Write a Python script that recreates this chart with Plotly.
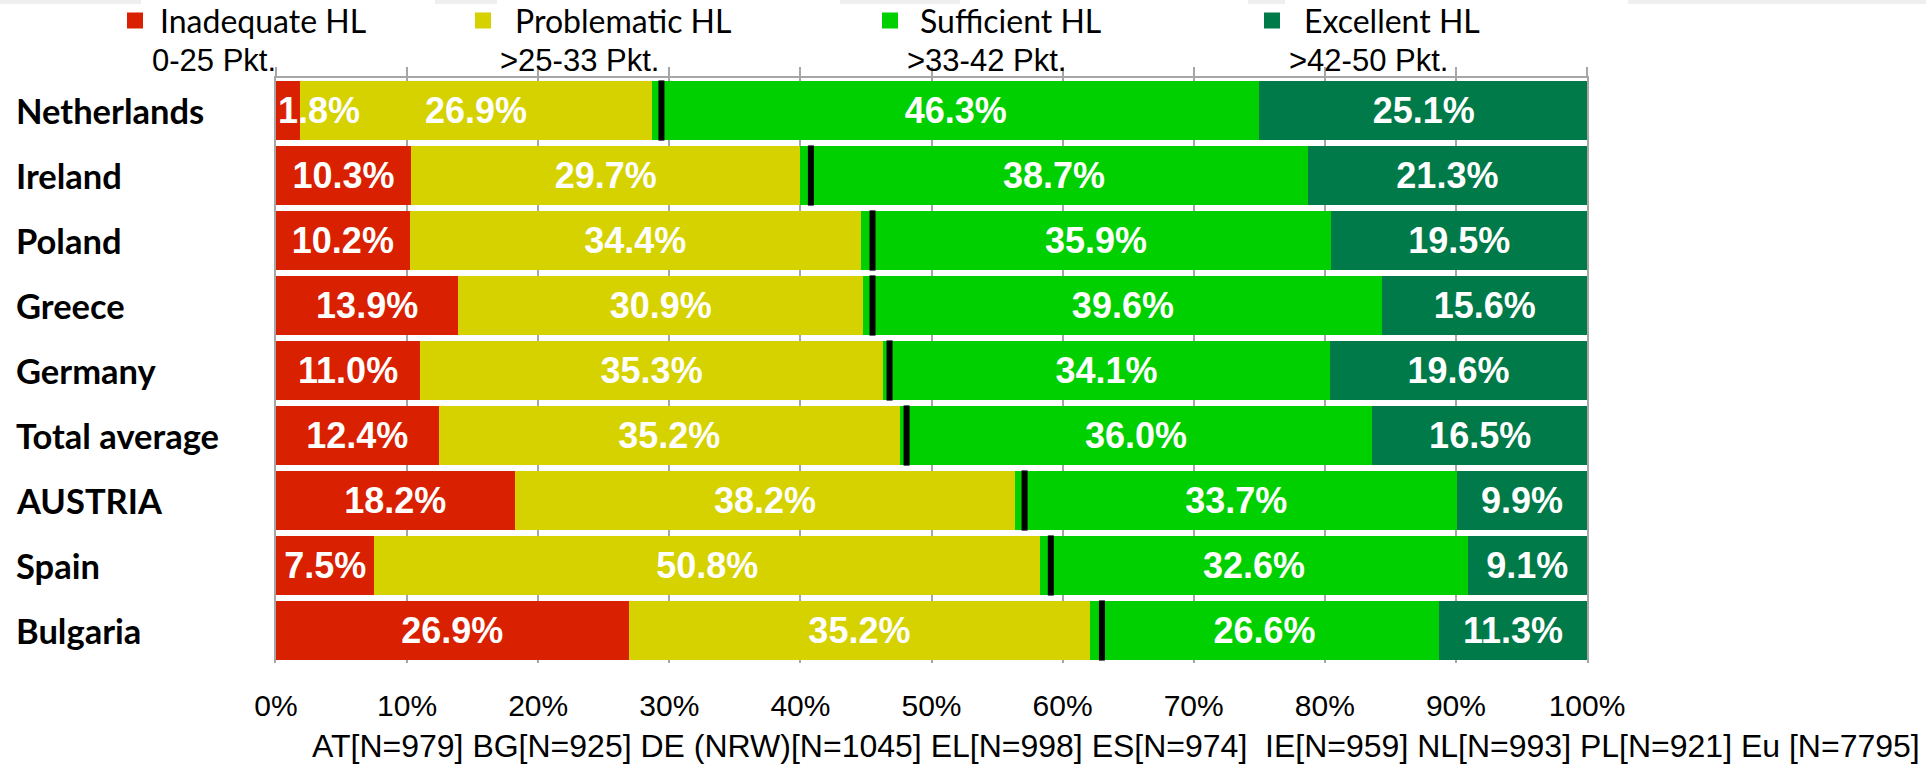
import plotly.graph_objects as go

# ---------------- data ----------------
countries = ["Netherlands", "Ireland", "Poland", "Greece", "Germany",
             "Total average", "AUSTRIA", "Spain", "Bulgaria"]
inadequate = [1.8, 10.3, 10.2, 13.9, 11.0, 12.4, 18.2, 7.5, 26.9]
problematic = [26.9, 29.7, 34.4, 30.9, 35.3, 35.2, 38.2, 50.8, 35.2]
sufficient = [46.3, 38.7, 35.9, 39.6, 34.1, 36.0, 33.7, 32.6, 26.6]
excellent = [25.1, 21.3, 19.5, 15.6, 19.6, 16.5, 9.9, 9.1, 11.3]
# black marker (limited HL boundary) positions, in %
limited_marker = [29.4, 40.8, 45.5, 45.5, 46.8, 48.1, 57.1, 59.1, 63.0]

series_names = ["Inadequate HL", "Problematic HL", "Sufficient HL", "Excellent HL"]
series_ranges = ["0-25 Pkt.", ">25-33 Pkt.", ">33-42 Pkt.", ">42-50 Pkt."]
series_colors = ["#D92000", "#D5D200", "#00D000", "#007A48"]
tick_values = [0, 10, 20, 30, 40, 50, 60, 70, 80, 90, 100]
sample_note = ("AT[N=979] BG[N=925] DE (NRW)[N=1045] EL[N=998] ES[N=974]  "
               "IE[N=959] NL[N=993] PL[N=921] Eu [N=7795]")

# ---------------- layout geometry (screen pixels) ----------------
SW, SH = 1926, 767
L, R, T, B = 276, 1587, 78, 663    # plot area edges on screen


def px(X):
    return (X - L) / (R - L)


def py(Y):
    return (B - Y) / (B - T)


GRID = "#A6A6A6"
ARIAL = "Liberation Sans, Arial, sans-serif"
LATO = "Lato, Open Sans, sans-serif"

fig = go.Figure()

all_values = [inadequate, problematic, sufficient, excellent]
for name, vals, col in zip(series_names, all_values, series_colors):
    texts = [f"{v:.1f}%" for v in vals]
    if name == "Inadequate HL":
        # the tiny Netherlands label is drawn left-anchored (as in original)
        texts = [t if v >= 3 else "" for t, v in zip(texts, vals)]
    fig.add_trace(go.Bar(
        name=name, y=countries, x=vals, orientation="h",
        marker=dict(color=col, line=dict(width=0)),
        text=texts, textposition="inside", insidetextanchor="middle",
        textangle=0, constraintext="none",
        textfont=dict(family=ARIAL, size=36, color="white", weight="bold"),
        hoverinfo="x+y", showlegend=False,
    ))

for c, v in zip(countries, inadequate):
    if v < 3:
        fig.add_annotation(x=0, y=c, xref="x", yref="y", text=f"{v:.1f}%",
                           xanchor="left", yanchor="middle", xshift=0,
                           showarrow=False,
                           font=dict(family=ARIAL, size=36, color="white",
                                     weight="bold"))

fig.add_trace(go.Scatter(
    x=limited_marker, y=countries, mode="markers", xaxis="x2", yaxis="y",
    marker=dict(symbol="line-ns", size=43, color="black",
                line=dict(color="black", width=6)),
    cliponaxis=False, hoverinfo="skip", showlegend=False,
))

# row labels (left aligned)
for c in countries:
    fig.add_annotation(x=px(14), y=c, xref="paper", yref="y", text=c,
                       xanchor="left", yanchor="middle", showarrow=False,
                       font=dict(family=LATO, size=34.5, color="black",
                                 weight="bold"))

# custom legend
sq_left = [127, 475, 882, 1264]
txt_left = [158, 513, 918, 1302]
rng_left = [150, 498, 905, 1287]
for i in range(4):
    fig.add_shape(type="rect", xref="paper", yref="paper",
                  x0=px(sq_left[i]), x1=px(sq_left[i] + 16),
                  y0=py(28.5), y1=py(12.5),
                  fillcolor=series_colors[i], line=dict(width=0))
    fig.add_annotation(x=px(txt_left[i]), y=py(21), xref="paper", yref="paper",
                       text=series_names[i], xanchor="left", yanchor="middle",
                       showarrow=False,
                       font=dict(family=LATO, size=32, color="black"))
    fig.add_annotation(x=px(rng_left[i]), y=py(60), xref="paper", yref="paper",
                       text=series_ranges[i], xanchor="left", yanchor="middle",
                       showarrow=False,
                       font=dict(family=ARIAL, size=31, color="black"))

# light grey strips at top edge (screenshot artefacts)
for x0, x1 in [(0, 141), (435, 497), (840, 960), (1248, 1285), (1628, 1926)]:
    fig.add_shape(type="rect", xref="paper", yref="paper",
                  x0=px(x0), x1=px(x1), y0=py(4), y1=py(0),
                  fillcolor="#EFEFEF", line=dict(width=0), layer="below")

# sample size note
fig.add_annotation(x=px(1922), y=py(746), xref="paper", yref="paper",
                   text=sample_note, xanchor="right", yanchor="middle",
                   showarrow=False, font=dict(family=ARIAL, size=32, color="black"))

fig.update_layout(
    width=SW, height=SH,
    margin=dict(l=L, r=SW - R, t=T, b=SH - B, pad=0),
    paper_bgcolor="white", plot_bgcolor="white",
    barmode="stack", bargap=0.092,
    showlegend=False,
    xaxis=dict(range=[0, 100], tickvals=tick_values,
               ticktext=[f"{v}%" for v in tick_values],
               showgrid=True, gridcolor=GRID, gridwidth=1.5,
               zeroline=False, showline=False, ticks="",
               ticklabelstandoff=22,
               tickfont=dict(family=ARIAL, size=30, color="black"),
               fixedrange=True),
    xaxis2=dict(range=[0, 100], overlaying="x", side="top", anchor="y",
                tickvals=tick_values, showticklabels=False, showgrid=False,
                zeroline=False, showline=True, linecolor=GRID, linewidth=2,
                ticks="outside", ticklen=9, tickcolor=GRID, tickwidth=1.5,
                fixedrange=True),
    yaxis=dict(range=[len(countries) - 0.5, -0.5], showticklabels=False,
               ticks="", showgrid=False, zeroline=False, showline=True,
               mirror=True, linecolor=GRID, linewidth=1.5, fixedrange=True),
)

fig.write_html(
    "out.html",
    config={"displayModeBar": False},
    post_script="document.body.style.margin='0';"
                "document.body.style.overflow='hidden';",
)
